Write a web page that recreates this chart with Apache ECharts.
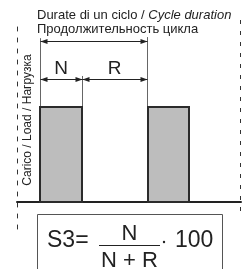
<!DOCTYPE html>
<html>
<head>
<meta charset="utf-8">
<script src="https://cdn.jsdelivr.net/npm/echarts@6/dist/echarts.min.js"></script>
<style>
html, body { margin: 0; padding: 0; background: #fff; }
#chart { width: 251px; height: 269px; }
</style>
</head>
<body>
<div id="chart"></div>
<script>
// load phases (time axis units), level of load
const loadStart = [1.08, 6.12];
const loadEnd = [3.05, 8.03];
const loadLevel = [5.2, 5.2];

// dimension arrows: [from, to, height]
const cycleDim = [[1.08, 6.1, 8.82]];
const phaseDim = [[1.08, 3.05, 6.75], [3.05, 6.1, 6.75]];
const phaseLabels = ['N', 'R'];

// thin guide lines: x, top, bottom
const guideX = [1.08, 3.05, 6.1];
const guideTop = [9.0, 6.92, 9.06];
const guideBottom = [5.2, 0, 0];

const FONT = '"Liberation Sans", Arial, sans-serif';

const myChart = echarts.init(document.getElementById('chart'));

const half = (v) => Math.round(v) + 0.5;

const option = {
  animation: false,
  title: {
    left: 37,
    top: 9,
    padding: 0,
    text: '{n|Durate di un ciclo / }{i|Cycle duration}\n{n|Продолжительность цикла}',
    textStyle: {
      fontWeight: 'normal',
      rich: {
        n: {fontFamily: FONT, fontSize: 13, fontWeight: 'normal', color: '#222', lineHeight: 13.5},
        i: {fontFamily: FONT, fontSize: 13, fontWeight: 'normal', color: '#222', lineHeight: 13.5, fontStyle: 'italic'},
      },
    },
  },
  grid: {left: 17, right: 10, top: 20, bottom: 40},
  xAxis: {
    type: 'value',
    min: 0,
    max: 10.5,
    axisLine: {show: true, onZero: true, lineStyle: {color: '#222', width: 2}},
    axisTick: {show: false},
    axisLabel: {show: false},
    splitLine: {show: false},
  },
  yAxis: {
    type: 'value',
    min: -1.5,
    max: 10,
    axisLine: {show: true, onZero: false, lineStyle: {color: '#333', width: 1, type: [4, 7]}},
    axisTick: {show: false},
    axisLabel: {show: false},
    splitLine: {show: false},
  },
  graphic: [
    {
      type: 'text',
      x: 28,
      y: 120,
      rotation: Math.PI / 2,
      style: {text: 'Carico / Load / Нагрузка', fontFamily: FONT, fontSize: 12, fill: '#222', align: 'center', verticalAlign: 'middle'},
    },
    {
      type: 'rect',
      shape: {x: 37.5, y: 214.5, width: 185, height: 70},
      style: {fill: 'none', stroke: '#555', lineWidth: 1},
    },
    {type: 'text', x: 47, y: 241, style: {text: 'S3=', fontFamily: FONT, fontSize: 23, fill: '#222', align: 'left', verticalAlign: 'middle'}},
    {type: 'text', x: 129.5, y: 233.5, style: {text: 'N', fontFamily: FONT, fontSize: 22, fill: '#222', align: 'center', verticalAlign: 'middle'}},
    {type: 'line', shape: {x1: 99, y1: 245.5, x2: 160, y2: 245.5}, style: {stroke: '#222', lineWidth: 1}},
    {type: 'text', x: 129.5, y: 261, style: {text: 'N + R', fontFamily: FONT, fontSize: 22, fill: '#222', align: 'center', verticalAlign: 'middle'}},
    {type: 'circle', shape: {cx: 164, cy: 242, r: 1.2}, style: {fill: '#222'}},
    {type: 'text', x: 175, y: 241, style: {text: '100', fontFamily: FONT, fontSize: 23, fill: '#222', align: 'left', verticalAlign: 'middle'}},
  ],
  series: [
    {
      // thin guides
      type: 'custom',
      clip: false,
      silent: true,
      data: guideX.map((x, i) => [x, guideTop[i], guideBottom[i]]),
      renderItem: (params, api) => {
        const a = api.coord([api.value(0), api.value(1)]);
        const b = api.coord([api.value(0), api.value(2)]);
        const x = half(a[0]);
        return {type: 'line', shape: {x1: x, y1: a[1], x2: x, y2: b[1]}, style: {stroke: '#666', lineWidth: 1}};
      },
      z: 1,
    },
    {
      // load bars
      type: 'custom',
      silent: true,
      data: loadStart.map((s, i) => [s, loadEnd[i], loadLevel[i]]),
      encode: {x: [0, 1], y: 2},
      renderItem: (params, api) => {
        const p0 = api.coord([api.value(0), api.value(2)]);
        const p1 = api.coord([api.value(1), 0]);
        return {
          type: 'rect',
          shape: {x: Math.round(p0[0]), y: Math.round(p0[1]), width: Math.round(p1[0] - p0[0]), height: Math.round(p1[1] - p0[1])},
          style: {fill: '#bdbdbd', stroke: '#2b2b2b', lineWidth: 2},
        };
      },
      z: 2,
    },
    {
      // cycle arrow
      type: 'custom',
      clip: false,
      silent: true,
      data: cycleDim,
      renderItem: (params, api) => dimItem(api, null),
      z: 3,
    },
    {
      // N / R arrows
      type: 'custom',
      clip: false,
      silent: true,
      data: phaseDim,
      renderItem: (params, api) => dimItem(api, phaseLabels[params.dataIndex]),
      z: 3,
    },
    {
      // right dashed border
      type: 'custom',
      clip: false,
      silent: true,
      data: [[10.5, 10, -0.75]],
      renderItem: (params, api) => {
        const a = api.coord([api.value(0), api.value(1)]);
        const b = api.coord([api.value(0), api.value(2)]);
        const x = half(a[0] - 1);
        return {type: 'line', shape: {x1: x, y1: a[1], x2: x, y2: b[1]}, style: {stroke: '#333', lineWidth: 1, lineDash: [4, 7]}};
      },
      z: 1,
    },
  ],
};

function dimItem(api, label) {
  const a = api.coord([api.value(0), api.value(2)]);
  const b = api.coord([api.value(1), api.value(2)]);
  const y = half(a[1]);
  const x1 = half(a[0]), x2 = half(b[0]);
  const h = 7, w = 2.5;
  const children = [
    {type: 'line', shape: {x1: x1, y1: y, x2: x2, y2: y}, style: {stroke: '#222', lineWidth: 1}},
    {type: 'polygon', shape: {points: [[x1, y], [x1 + h, y - w], [x1 + h, y + w]]}, style: {fill: '#222'}},
    {type: 'polygon', shape: {points: [[x2, y], [x2 - h, y - w], [x2 - h, y + w]]}, style: {fill: '#222'}},
  ];
  if (label) {
    children.push({
      type: 'text',
      x: (a[0] + b[0]) / 2,
      y: y - 11,
      style: {text: label, fontFamily: FONT, fontSize: 19, fill: '#222', align: 'center', verticalAlign: 'middle'},
    });
  }
  return {type: 'group', children: children};
}

myChart.setOption(option);
</script>
</body>
</html>
